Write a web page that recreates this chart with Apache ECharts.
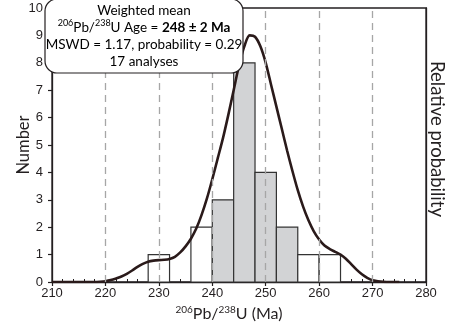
<!DOCTYPE html>
<html><head><meta charset="utf-8">
<script src="https://cdn.jsdelivr.net/npm/echarts@6/dist/echarts.min.js"></script>
<style>html,body{margin:0;padding:0;background:#fff}#c{width:458px;height:327px}</style>
</head><body><div id="c"></div>
<script>
// Histogram bins (Ma): start, end, count, used in weighted mean (grey) or not (white)
const binStart = [228, 236, 240, 244, 248, 252, 256, 260];
const binEnd   = [232, 240, 244, 248, 252, 256, 260, 264];
const binCount = [1, 2, 3, 8, 4, 2, 1, 1];
const binUsed  = [false, false, true, true, true, true, false, false];

// Relative probability curve (scaled to count axis)
const curveAge = [210,211,212,213,214,215,216,217,218,219,220,221,222,223,224,225,226,227,228,229,230,231,232,233,234,235,236,237,238,239,240,241,242,243,244,245,246,247,248,249,250,251,252,253,254,255,256,257,258,259,260,261,262,263,264,265,266,267,268,269,270,271,272,273,274,275];
const curveVal = [0,0,0,0,0,0,0,0,0,0.01,0.03,0.07,0.13,0.2,0.3,0.42,0.55,0.66,0.74,0.78,0.8,0.81,0.84,0.92,1.08,1.3,1.58,1.95,2.45,3.05,3.75,4.5,5.25,6.1,7.0,7.9,8.6,9.0,8.95,8.6,8.0,7.2,6.4,5.6,4.8,4.05,3.35,2.75,2.25,1.85,1.55,1.33,1.2,1.1,1.0,0.85,0.65,0.45,0.28,0.15,0.06,0.03,0.01,0,0,0];

const xTicks = [210, 220, 230, 240, 250, 260, 270, 280];
const gridAges = [220, 230, 240, 250, 260, 270];
const yTicks = [0,1,2,3,4,5,6,7,8,9,10];

const ink = '#231f20';
const sansA = '"Liberation Sans", Arial, sans-serif';
const sansM = 'Lato, "Open Sans", sans-serif';

const chart = echarts.init(document.getElementById('c'));
const bars = binStart.map((s, i) => [s, binEnd[i], binCount[i], binUsed[i] ? 1 : 0]);
const curve = curveAge.map((a, i) => [a, curveVal[i]]);

chart.setOption({
  animation: false,
  grid: { left: 52, right: 32, top: 8, bottom: 45, containLabel: false, outerBoundsMode: 'none',
          show: true, borderColor: ink, borderWidth: 1.3, backgroundColor: 'transparent' },
  xAxis: [{
    type: 'value', min: xTicks[0], max: xTicks[xTicks.length-1], interval: 10,
    axisLine: { show: true, lineStyle: { color: ink, width: 1.3 } },
    axisTick: { show: true, length: 4, lineStyle: { color: ink, width: 1.2 } },
    axisLabel: { color: ink, fontFamily: sansA, fontSize: 13, margin: 5 },
    splitLine: { show: false },
    name: '{s|206}Pb/{s|238}U (Ma)', nameLocation: 'middle', nameGap: 21,
    nameTextStyle: { color: ink, fontFamily: sansM, fontSize: 16, padding: [0, 20, 0, 0],
      rich: { s: { fontSize: 10, verticalAlign: 'top', fontFamily: sansM, color: ink, padding: [0,0,8,0] } } }
  }, {
    type: 'value', min: xTicks[0], max: xTicks[xTicks.length-1], interval: 2, position: 'bottom',
    axisLine: { show: false }, axisLabel: { show: false }, splitLine: { show: false },
    axisTick: { show: true, inside: true, length: 3, lineStyle: { color: ink, width: 1 } }
  }],
  yAxis: [{
    type: 'value', min: yTicks[0], max: yTicks[yTicks.length-1], interval: 1,
    axisLine: { show: true, lineStyle: { color: ink, width: 1.3 } },
    axisTick: { show: true, length: 4, lineStyle: { color: ink, width: 1.2 } },
    axisLabel: { color: ink, fontFamily: sansA, fontSize: 13, margin: 9 },
    splitLine: { show: false },
    name: 'Number', nameLocation: 'middle', nameGap: 20, nameRotate: 90, nameMoveOverlap: false,
    nameTextStyle: { color: ink, fontFamily: sansM, fontSize: 16.5 }
  }, {
    type: 'value', min: 0, max: 10, position: 'right',
    axisLine: { show: true, lineStyle: { color: ink, width: 1.3 } },
    axisTick: { show: false }, axisLabel: { show: false }, splitLine: { show: false },
    name: 'Relative probability', nameLocation: 'middle', nameGap: 1, nameRotate: -90,
    nameTextStyle: { color: ink, fontFamily: sansM, fontSize: 18.5, padding: [0, 12, 0, 0] }
  }],
  series: [{
    type: 'custom', data: bars, z: 2,
    renderItem: (params, api) => {
      const p0 = api.coord([api.value(0), 0]);
      const p1 = api.coord([api.value(1), api.value(2)]);
      return { type: 'rect',
        shape: { x: p0[0], y: p1[1], width: p1[0] - p0[0], height: p0[1] - p1[1] },
        style: { fill: api.value(3) ? '#d2d3d5' : '#ffffff', stroke: '#333333', lineWidth: 1.2 } };
    },
    encode: { x: [0, 1], y: 2 }
  }, {
    type: 'line', data: [], z: 3, silent: true,
    markLine: {
      symbol: 'none', silent: true, label: { show: false },
      lineStyle: { color: '#a6a6a6', width: 1.3, type: [7, 5] },
      data: gridAges.map(a => ({ xAxis: a }))
    }
  }, {
    type: 'line', data: curve, smooth: 0.3, showSymbol: false, z: 4,
    lineStyle: { color: '#2a1a1a', width: 2.6 }
  }],
  graphic: [{
    type: 'rect', z: 10,
    shape: { x: 45, y: -1, width: 198, height: 74, r: 12 },
    style: { fill: '#ffffff', stroke: ink, lineWidth: 1.2 }
  }, {
    type: 'text', z: 11, x: 144, y: 2,
    style: {
      text: '{n|Weighted mean}\n{s|206}{n|Pb/}{s|238}{n|U Age = }{b|248 ± 2 Ma}\n{n|MSWD = 1.17, probability = 0.29}\n{n|17 analyses}',
      align: 'center', verticalAlign: 'top', lineHeight: 17,
      rich: {
        n: { fontFamily: sansM, fontSize: 13.5, color: ink, lineHeight: 17 },
        b: { fontFamily: sansM, fontSize: 13.5, color: ink, fontWeight: 'bold', lineHeight: 17 },
        s: { fontFamily: sansM, fontSize: 9, color: ink, verticalAlign: 'top', lineHeight: 17, padding: [0,0,6,0] }
      }
    }
  }]
});
</script>
</body></html>
